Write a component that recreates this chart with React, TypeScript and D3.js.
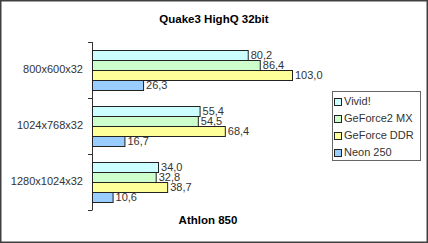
import React from "react";
import * as d3 from "d3";

const categories = ["800x600x32", "1024x768x32", "1280x1024x32"];
const seriesNames = ["Vivid!", "GeForce2 MX", "GeForce DDR", "Neon 250"];
const vivid = [80.2, 55.4, 34.0];
const geforce2mx = [86.4, 54.5, 32.8];
const geforceddr = [103.0, 68.4, 38.7];
const neon250 = [26.3, 16.7, 10.6];
const seriesColors = ["#CCFFFF", "#CCFFCC", "#FFFF99", "#99CCFF"];

const W = 428;
const H = 243;
const FONT = "'Liberation Sans', Arial, sans-serif";

export default function App() {
  const series = [vivid, geforce2mx, geforceddr, neon250];
  const x = d3.scaleLinear().domain([0, 103]).range([92, 292]);
  const y = d3
    .scaleBand<string>()
    .domain(categories)
    .range([42, 210])
    .paddingInner(16 / 56)
    .paddingOuter(8 / 56);
  const yi = d3
    .scaleBand<string>()
    .domain(seriesNames)
    .range([0, y.bandwidth()])
    .padding(0);
  const step = y.step();
  const fmt = (v: number) => d3.format(".1f")(v).replace(".", ",");
  const ticks = d3.range(categories.length + 1).map((i) => 42 + i * step);

  return (
    <svg
      width={W}
      height={H}
      style={{ position: "absolute", left: 0, top: 0, background: "#fff" }}
      fontFamily={FONT}
    >
      <rect x={0.75} y={0.75} width={W - 1.5} height={H - 1.5} fill="#fff" stroke="#404040" strokeWidth={1.5} />
      <text x={214} y={23} textAnchor="middle" fontSize={11.5} fontWeight="bold" fill="#000">
        Quake3 HighQ 32bit
      </text>
      {/* axis */}
      <line x1={92.5} x2={92.5} y1={42} y2={210} stroke="#333" />
      {ticks.map((t, i) => (
        <line key={i} x1={88} x2={92.5} y1={Math.round(t) + 0.5} y2={Math.round(t) + 0.5} stroke="#333" />
      ))}
      {categories.map((c) => (
        <text
          key={c}
          x={83}
          y={(y(c) as number) + y.bandwidth() / 2}
          textAnchor="end"
          dominantBaseline="middle"
          fontSize={11}
          fill="#333"
        >
          {c}
        </text>
      ))}
      {categories.map((c, ci) =>
        seriesNames.map((s, si) => {
          const v = series[si][ci];
          const by = (y(c) as number) + (yi(s) as number);
          return (
            <g key={c + s}>
              <rect
                x={92.5}
                y={Math.round(by) + 0.5}
                width={x(v) - x(0)}
                height={yi.bandwidth()}
                fill={seriesColors[si]}
                stroke="#222"
                strokeWidth={1}
              />
              <text
                x={x(v) + 3}
                y={by + yi.bandwidth() / 2 + 1}
                dominantBaseline="middle"
                fontSize={11}
                fill="#333"
              >
                {fmt(v)}
              </text>
            </g>
          );
        })
      )}
      <text x={208} y={224} textAnchor="middle" fontSize={11.5} fontWeight="bold" fill="#000">
        Athlon 850
      </text>
      {/* legend */}
      <rect x={332.5} y={91.5} width={88} height={69} fill="#fff" stroke="#666" />
      {seriesNames.map((s, i) => {
        const cy = 101.5 + i * 16.9;
        return (
          <g key={s}>
            <rect x={334.5} y={Math.round(cy - 3.5) + 0.5} width={7} height={7} fill={seriesColors[i]} stroke="#222" />
            <text x={344} y={cy + 1} dominantBaseline="middle" fontSize={11} fill="#333">
              {s}
            </text>
          </g>
        );
      })}
    </svg>
  );
}
